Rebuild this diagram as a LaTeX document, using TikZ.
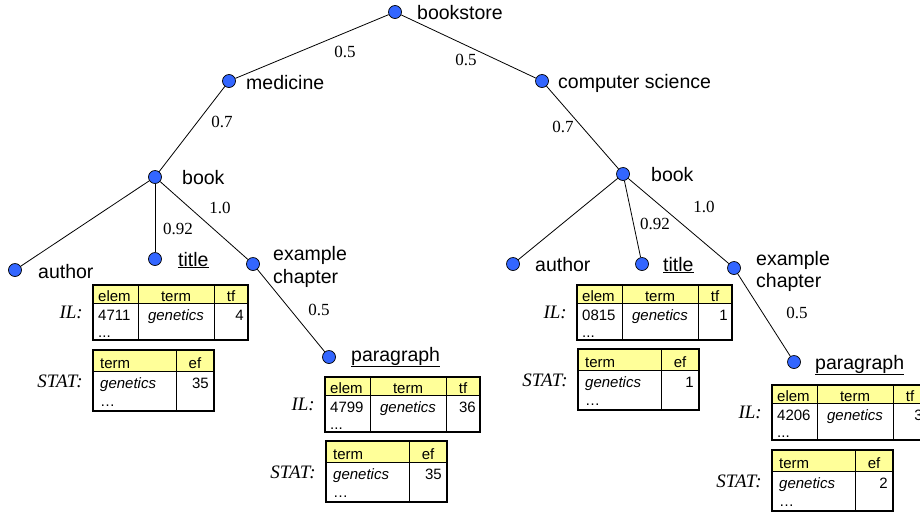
\documentclass[tikz,border=0pt]{standalone}
\usepackage{fontspec}
\setmainfont{Liberation Serif}
\setsansfont{Liberation Sans}
\definecolor{dotblue}{RGB}{51,102,255}
\definecolor{hdryellow}{RGB}{255,255,153}
\tikzset{
  dot/.style={circle, draw=black, line width=0.7pt, fill=dotblue, minimum size=13pt, inner sep=0pt},
  link/.style={line width=0.8pt},
  tagtxt/.style={font=\sffamily\fontsize{19.5}{23}\selectfont, inner sep=0pt, anchor=base west},
  wt/.style={font=\fontsize{17}{20}\selectfont, inner sep=0pt},
  cell/.style={font=\sffamily\fontsize{15}{18}\selectfont, inner sep=0pt},
  tablab/.style={font=\itshape\fontsize{19}{22}\selectfont, inner sep=0pt, anchor=east},
  tabout/.style={line width=1.6pt},
  tabin/.style={line width=1pt},
  hdrfill/.style={fill=hdryellow},
}
% inverted list: #1 name prefix, #2/#3 top-left corner, #4 elem id, #5 tf
\newcommand{\ILtab}[5]{%
  \begin{scope}[shift={(#2,#3)}]
    \fill[hdrfill] (0,0) rectangle (155,18);
    \draw[tabin] (0,18) -- (155,18) (45,0) -- (45,55) (121,0) -- (121,55);
    \draw[tabout] (0,0) rectangle (155,55);
    \node[cell, anchor=base west] (#1e) at (5,16.5) {elem};
    \node[cell, anchor=base] (#1t) at (83,16.5) {term};
    \node[cell, anchor=base] (#1f) at (138,16.5) {tf};
    \node[cell, anchor=base west] (#1ev) at (5,35) {#4};
    \node[cell, anchor=base] (#1tv) at (83,35) {\itshape genetics};
    \node[cell, anchor=base east] (#1fv) at (151,35) {#5};
    \node[cell, anchor=base west] (#1d) at (5,52) {...};
    \node[tablab] (#1l) at (-10,27.5) {IL:};
  \end{scope}}
% statistics table: #1 name prefix, #2/#3 top-left corner, #4 ef
\newcommand{\STATtab}[4]{%
  \begin{scope}[shift={(#2,#3)}]
    \fill[hdrfill] (0,0) rectangle (121,21);
    \draw[tabin] (0,21) -- (121,21) (83,0) -- (83,61);
    \draw[tabout] (0,0) rectangle (121,61);
    \node[cell, anchor=base west] (#1t) at (7,18) {term};
    \node[cell, anchor=base] (#1f) at (102,18) {ef};
    \node[cell, anchor=base west] (#1tv) at (7,38) {\itshape genetics};
    \node[cell, anchor=base east] (#1fv) at (116,38) {#4};
    \node[cell, anchor=base west] (#1d) at (7,56.5) {…};
    \node[tablab] (#1l) at (-10,31) {STAT:};
  \end{scope}}

\begin{document}
\begin{tikzpicture}[x=1pt, y=-1pt]
  \useasboundingbox (0,0) rectangle (920,512);
  \fill[white] (0,0) rectangle (920,512);
  \clip (0,0) rectangle (920,512);

  % tree nodes
  \node[dot] (bs)  at (395,12)  {};
  \node[dot] (med) at (229,81)  {};
  \node[dot] (cs)  at (542,81)  {};
  \node[dot] (bkL) at (155,177) {};
  \node[dot] (bkR) at (623,174) {};
  \node[dot] (auL) at (15,270)  {};
  \node[dot] (tiL) at (155,259) {};
  \node[dot] (ecL) at (253,264) {};
  \node[dot] (paL) at (329,357) {};
  \node[dot] (auR) at (513,264) {};
  \node[dot] (tiR) at (642,264) {};
  \node[dot] (ecR) at (734,268) {};
  \node[dot] (paR) at (794,362) {};

  % edges
  \draw[link] (bs) -- (med);
  \draw[link] (bs) -- (cs);
  \draw[link] (med) -- (bkL);
  \draw[link] (cs) -- (bkR);
  \draw[link] (bkL) -- (auL);
  \draw[link] (bkL) -- (tiL);
  \draw[link] (bkL) -- (ecL);
  \draw[link] (ecL) -- (paL);
  \draw[link] (bkR) -- (auR);
  \draw[link] (bkR) -- (tiR);
  \draw[link] (bkR) -- (ecR);
  \draw[link] (ecR) -- (paR);

  % element names
  \node[tagtxt] (bsT)   at (417,19.5) {bookstore};
  \node[tagtxt] (medT)  at (246,89)   {medicine};
  \node[tagtxt] (csT)   at (558,88)   {computer science};
  \node[tagtxt] (bkLT)  at (182,184)  {book};
  \node[tagtxt] (bkRT)  at (651,181)  {book};
  \node[tagtxt] (auLT)  at (38,278)   {author};
  \node[tagtxt] (tiLT)  at (178,266)  {\underline{title}};
  \node[tagtxt] (ecLT)  at (273,260)  {example};
  \node[tagtxt] (ecLT2) at (273,283)  {chapter};
  \node[tagtxt] (paLT)  at (351,361)  {\underline{paragraph}};
  \node[tagtxt] (auRT)  at (535,271)  {author};
  \node[tagtxt] (tiRT)  at (663,271)  {\underline{title}};
  \node[tagtxt] (ecRT)  at (756,265)  {example};
  \node[tagtxt] (ecRT2) at (756,287)  {chapter};
  \node[tagtxt] (paRT)  at (815,369)  {\underline{paragraph}};

  % edge weights
  \node[wt] (w1)  at (345,52)  {0.5};
  \node[wt] (w2)  at (466,60)  {0.5};
  \node[wt] (w3)  at (222,122) {0.7};
  \node[wt] (w4)  at (563,127) {0.7};
  \node[wt] (w5)  at (220,208) {1.0};
  \node[wt] (w6)  at (178,229) {0.92};
  \node[wt] (w7)  at (704,207) {1.0};
  \node[wt] (w8)  at (655,224) {0.92};
  \node[wt] (w9)  at (319,310) {0.5};
  \node[wt] (w10) at (797,313) {0.5};

  % index tables
  \ILtab{ilA}{93}{285}{4711}{4}
  \STATtab{stA}{93}{350}{35}
  \ILtab{ilB}{325}{377}{4799}{36}
  \STATtab{stB}{326}{441}{35}
  \ILtab{ilC}{577}{285}{0815}{1}
  \STATtab{stC}{578}{349}{1}
  \ILtab{ilD}{772}{385}{4206}{3}
  \STATtab{stD}{772}{450}{2}
\end{tikzpicture}
\end{document}
